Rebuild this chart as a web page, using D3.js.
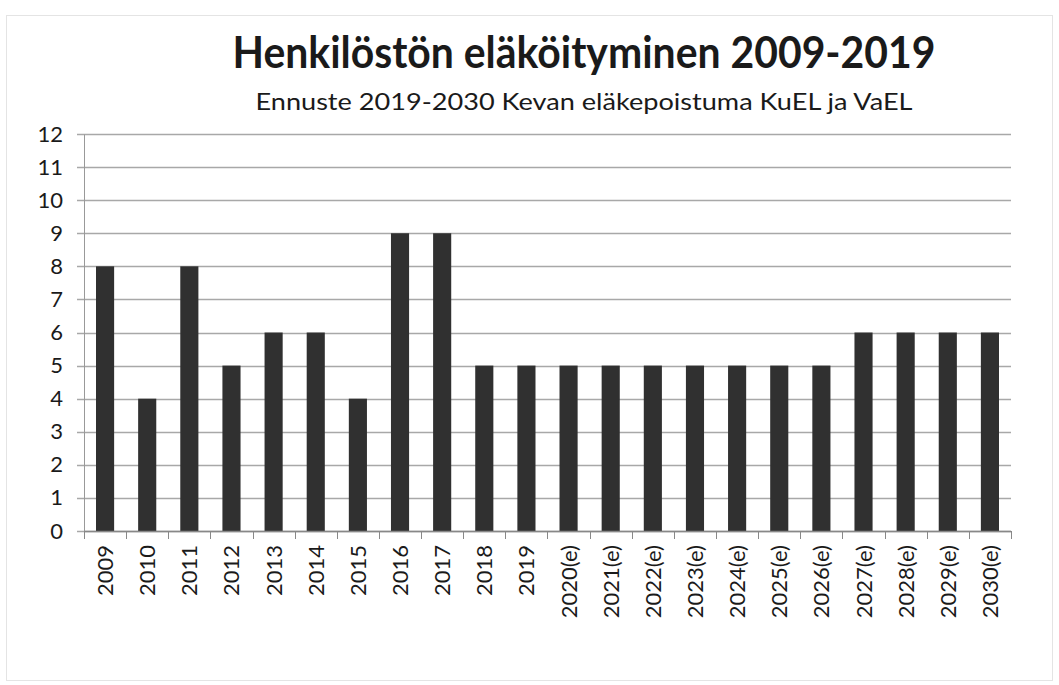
<!DOCTYPE html>
<html>
<head>
<meta charset="utf-8">
<script src="https://cdn.jsdelivr.net/npm/d3@7"></script>
<style>
  body { margin: 0; background: #fff; }
  text { font-family: Lato, "Open Sans", sans-serif; fill: #1a1a1a; }
</style>
</head>
<body>
<div class="chart"></div>
<script>
var years = ["2009", "2010", "2011", "2012", "2013", "2014", "2015", "2016", "2017", "2018", "2019",
  "2020(e)", "2021(e)", "2022(e)", "2023(e)", "2024(e)", "2025(e)", "2026(e)", "2027(e)", "2028(e)", "2029(e)", "2030(e)"];
var retirements = [8, 4, 8, 5, 6, 6, 4, 9, 9, 5, 5, 5, 5, 5, 5, 5, 5, 5, 6, 6, 6, 6];
var yTicks = [0, 1, 2, 3, 4, 5, 6, 7, 8, 9, 10, 11, 12];

var svgWidth = 1059;
var svgHeight = 685;

var margin = {
  top: 134,
  right: 48,
  bottom: 154,
  left: 84
};

var width = svgWidth - margin.left - margin.right;
var height = svgHeight - margin.top - margin.bottom;

var svg = d3.select(".chart")
  .append("svg")
  .attr("width", svgWidth)
  .attr("height", svgHeight);

// outer chart frame
svg.append("rect")
  .attr("x", 6.5)
  .attr("y", 15.5)
  .attr("width", 1046)
  .attr("height", 665)
  .attr("fill", "none")
  .attr("stroke", "#e4e4e4");

svg.append("text")
  .attr("x", 584)
  .attr("y", 68)
  .attr("text-anchor", "middle")
  .attr("textLength", 703)
  .attr("lengthAdjust", "spacingAndGlyphs")
  .style("font-size", "43px")
  .style("font-weight", "bold")
  .text("Henkilöstön eläköityminen 2009-2019");

svg.append("text")
  .attr("x", 584)
  .attr("y", 110)
  .attr("text-anchor", "middle")
  .attr("textLength", 657)
  .attr("lengthAdjust", "spacingAndGlyphs")
  .style("font-size", "23px")
  .text("Ennuste 2019-2030 Kevan eläkepoistuma KuEL ja VaEL");

var chartGroup = svg.append("g")
  .attr("transform", `translate(${margin.left}, ${margin.top})`);

var xBandScale = d3.scaleBand()
  .domain(years)
  .range([0, width])
  .paddingInner(0.57)
  .paddingOuter(0.285);

var yLinearScale = d3.scaleLinear()
  .domain([0, 12])
  .range([height, 0]);

// gridlines
chartGroup.append("g")
  .selectAll("line")
  .data(yTicks)
  .enter()
  .append("line")
  .attr("x1", -7)
  .attr("x2", width)
  .attr("y1", d => Math.round(yLinearScale(d)) + 0.5)
  .attr("y2", d => Math.round(yLinearScale(d)) + 0.5)
  .attr("stroke", "#a8a8a8")
  .attr("stroke-width", 1.5);

// bars
chartGroup.selectAll("rect.bar")
  .data(retirements)
  .enter()
  .append("rect")
  .attr("class", "bar")
  .attr("x", (d, i) => xBandScale(years[i]))
  .attr("y", d => yLinearScale(d))
  .attr("width", xBandScale.bandwidth())
  .attr("height", d => height - yLinearScale(d))
  .attr("fill", "#303030");

// y axis
var leftAxis = d3.axisLeft(yLinearScale)
  .tickValues(yTicks)
  .tickSize(0)
  .tickPadding(21);

var yAxis = chartGroup.append("g")
  .call(leftAxis);
yAxis.select(".domain").attr("stroke", "#999");
yAxis.selectAll("text")
  .style("font-size", "22px")
  .style("font-family", "Lato, sans-serif")
  .attr("fill", "#1a1a1a");

// x axis: ticks on category boundaries
var xAxis = chartGroup.append("g")
  .attr("transform", `translate(0, ${height})`);

xAxis.append("line")
  .attr("x1", 0)
  .attr("x2", width)
  .attr("y1", 0.5)
  .attr("y2", 0.5)
  .attr("stroke", "#888")
  .attr("stroke-width", 1.5);

var step = xBandScale.step();
xAxis.selectAll("line.tick")
  .data(d3.range(years.length + 1))
  .enter()
  .append("line")
  .attr("class", "tick")
  .attr("x1", i => Math.round(i * step) + 0.5)
  .attr("x2", i => Math.round(i * step) + 0.5)
  .attr("y1", 0)
  .attr("y2", 8)
  .attr("stroke", "#888");

xAxis.selectAll("text.label")
  .data(years)
  .enter()
  .append("text")
  .attr("class", "label")
  .attr("text-anchor", "end")
  .attr("transform", d => `translate(${xBandScale(d) + xBandScale.bandwidth() / 2 + 8}, 14) rotate(-90)`)
  .style("font-size", "22px")
  .text(d => d);
</script>
</body>
</html>
